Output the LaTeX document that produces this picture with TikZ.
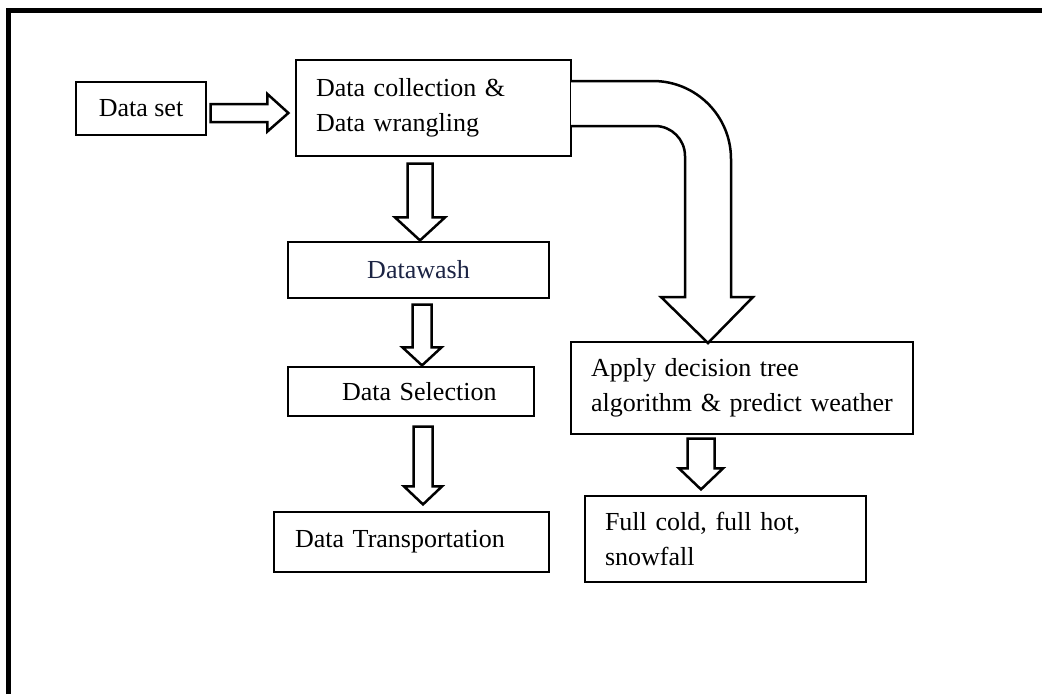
\documentclass[tikz,border=0pt]{standalone}
\usepackage{fontspec}
\setmainfont{Liberation Serif}
\usetikzlibrary{calc}
\definecolor{navy}{RGB}{28,36,68}
\newcommand\blockdown[8]{% #1 src, #2 dst, #3 x, #4 half shaft, #5 half head, #6 top gap, #7 head length, #8 tip gap
  \draw[barrow] let \p1=(#1.south), \p2=(#2.north) in
    (#3pt-#4pt, \y1-#6pt) -- (#3pt+#4pt, \y1-#6pt) -- (#3pt+#4pt, \y2+#8pt+#7pt)
    -- (#3pt+#5pt, \y2+#8pt+#7pt) -- (#3pt, \y2+#8pt) -- (#3pt-#5pt, \y2+#8pt+#7pt)
    -- (#3pt-#4pt, \y2+#8pt+#7pt) -- cycle;}
\begin{document}
\begin{tikzpicture}[x=1pt,y=-1pt,
  box/.style={draw, line width=1.2pt, inner sep=0pt, font=\fontsize{26}{35}\selectfont},
  barrow/.style={draw, line width=2.5pt, line join=miter, fill=white}]
\useasboundingbox (0,0) rectangle (1042,694);
\fill[white] (0,0) rectangle (1042,694);
\draw[line width=5pt, line join=miter] (8.5,694) -- (8.5,10) -- (1042,10);

\node[box, minimum width=130pt, minimum height=53pt] (dataset) at (141,108.5) {Data set};
\node[box, text width=275pt, align=left, minimum height=96pt] (collect) at (433.5,108)
  {\hspace*{20pt}Data collection \&\\\hspace*{20pt}Data wrangling};
\node[box, minimum width=261pt, minimum height=56pt, text=navy] (wash) at (418.5,270) {Datawash};
\node[box, text width=246pt, align=left, minimum height=49pt] (select) at (411,391.5)
  {\hspace*{54pt}Data Selection};
\node[box, text width=275pt, align=left, minimum height=60pt] (trans) at (411.5,542)
  {\hspace*{21pt}Data Transportation};
\node[box, text width=342pt, align=left, minimum height=92pt] (apply) at (742,388)
  {\hspace*{20pt}Apply decision tree\\\hspace*{20pt}algorithm \& predict weather};
\node[box, text width=281pt, align=left, minimum height=86pt] (result) at (725.5,539)
  {\hspace*{20pt}Full cold, full hot,\\\hspace*{20pt}snowfall};

% right block arrow
\draw[barrow] let \p1=(dataset.east), \p2=(collect.west) in
  (\x1+4pt,-104pt) -- (\x2-28pt,-104pt) -- (\x2-28pt,-94pt) -- (\x2-7pt,-113pt)
  -- (\x2-28pt,-131.5pt) -- (\x2-28pt,-122pt) -- (\x1+4pt,-122pt) -- cycle;

% down block arrows
\blockdown{collect}{wash}{420}{12.5}{25}{7}{23}{1}
\blockdown{wash}{select}{422}{9.5}{19.5}{6}{18}{1}
\blockdown{select}{trans}{423}{9.5}{19}{10}{18}{7}
\blockdown{apply}{result}{701}{13.5}{22}{4}{21}{6}

% curved block arrow
\draw[barrow] (571,81) -- (653,81) .. controls (696.1,81) and (731,115.9) .. (731,159)
  -- (731,297) -- (753,297) -- (708,343) -- (661,297) -- (685,297) -- (685,156)
  .. controls (685,139.4) and (671.6,126) .. (655,126) -- (571,126);
\end{tikzpicture}
\end{document}
